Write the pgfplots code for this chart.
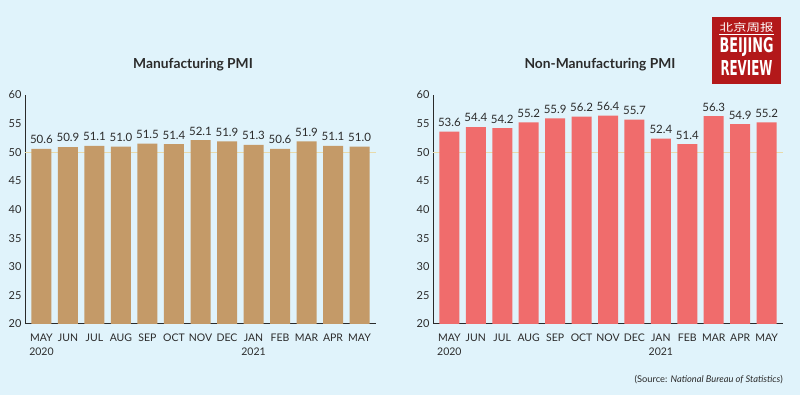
\documentclass[border=0pt]{standalone}
\usepackage{pgfplots}
\usepackage{pgfplotstable}
\usepackage{graphicx}
\pgfplotsset{compat=1.18}
\usepackage{fontspec}
\setmainfont{Lato}
\newfontfamily\cjk{Noto Sans CJK SC}
\newfontfamily\logofont{DejaVu Sans}
\definecolor{bg}{HTML}{E0F3FB}
\definecolor{manu}{HTML}{C49A68}
\definecolor{nonmanu}{HTML}{F06C6C}
\definecolor{refline}{HTML}{E8DAAA}
\definecolor{axiscol}{HTML}{2A2A2A}
\definecolor{txt}{HTML}{2B2B2B}
\definecolor{logored}{HTML}{B3181A}

\pgfplotstableread{
x y
0 50.6
1 50.9
2 51.1
3 51.0
4 51.5
5 51.4
6 52.1
7 51.9
8 51.3
9 50.6
10 51.9
11 51.1
12 51.0
}\manutable

\pgfplotstableread{
x y
0 53.6
1 54.4
2 54.2
3 55.2
4 55.9
5 56.2
6 56.4
7 55.7
8 52.4
9 51.4
10 56.3
11 54.9
12 55.2
}\nonmanutable

\pgfplotsset{
  pmi/.style={
    scale only axis,
    height=229pt,
    ymin=20, ymax=60,
    ytick={20,25,...,60},
    xmin=-0.62, xmax=12.62,
    xtick={0,...,12},
    xticklabels={{MAY\\2020},JUN,JUL,AUG,SEP,OCT,NOV,DEC,{JAN\\2021},FEB,MAR,APR,MAY},
    xticklabel style={align=center, font=\fontsize{10.5}{14}\selectfont, text=txt, yshift=-6pt},
    yticklabel style={font=\fontsize{11}{12}\selectfont, text=txt},
    axis x line=bottom, axis y line=left,
    axis line style={axiscol, line width=1pt, -},
    major tick length=0pt,
    tick style={draw=none},
    /pgf/number format/assume math mode=true,
    extra y ticks={50},
    extra y tick labels={},
    extra y tick style={grid=major, major grid style={refline, line width=1pt}},
    ybar, bar width=20pt,
    nodes near coords,
    every node near coord/.append style={font=\fontsize{11.5}{12}\selectfont, text=txt, yshift=1.5pt,
      /pgf/number format/.cd, fixed, precision=1, fixed zerofill, assume math mode=true},
    clip=false,
  }
}

\begin{document}
\begin{tikzpicture}
\fill[bg] (0pt,0pt) rectangle (800pt,395pt);

\begin{axis}[pmi, width=351pt, at={(25pt,71pt)}, anchor=south west]
\addplot[fill=manu, draw=none] table[x=x,y=y] {\manutable};
\end{axis}

\begin{axis}[pmi, width=350pt, at={(433pt,71pt)}, anchor=south west]
\addplot[fill=nonmanu, draw=none] table[x=x,y=y] {\nonmanutable};
\end{axis}

\node[font=\bfseries\fontsize{13.8}{15}\selectfont, text=txt] at (193pt,330pt) {Manufacturing PMI};
\node[font=\bfseries\fontsize{13.8}{15}\selectfont, text=txt] at (600pt,330pt) {Non-Manufacturing PMI};

\node[anchor=east, font=\fontsize{9.3}{10}\selectfont, text=txt, inner sep=0pt] at (783pt,15pt) {(Source: \textit{National Bureau of Statistics})};

% logo
\fill[logored] (712pt,311pt) rectangle (781pt,378pt);
\node[text=white, inner sep=0pt] at (746.5pt,367.5pt) {\resizebox{54pt}{9pt}{\cjk 北京周报}};
\draw[white, line width=0.8pt] (719pt,361pt) -- (774pt,361pt);
\node[text=white, inner sep=0pt, anchor=south] at (746.5pt,338pt) {\resizebox{54pt}{15pt}{\logofont\bfseries BEIJING}};
\node[text=white, inner sep=0pt, anchor=south] at (746.5pt,319pt) {\resizebox{52pt}{15pt}{\logofont\bfseries REVIEW}};
\end{tikzpicture}
\end{document}
